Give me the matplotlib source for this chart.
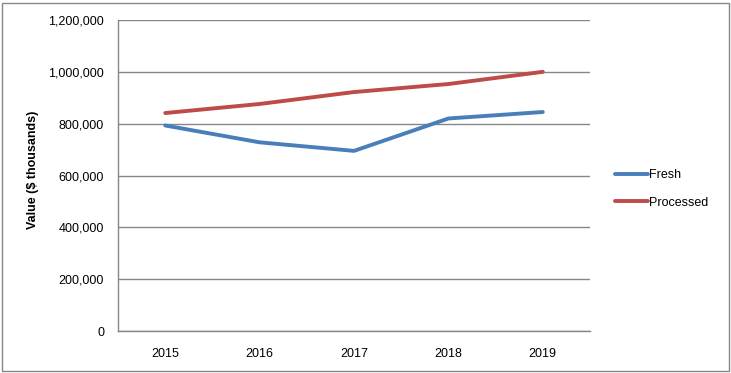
import matplotlib
matplotlib.use('Agg')
import matplotlib.pyplot as plt
from matplotlib.patches import Rectangle
from matplotlib.ticker import FuncFormatter

plt.rcParams['font.family'] = ['Liberation Sans', 'DejaVu Sans']

# data ($ thousands)
years = ['2015', '2016', '2017', '2018', '2019']
fresh = [793000, 728000, 695000, 820000, 845000]
processed = [841000, 876000, 922000, 953000, 1000000]

fig = plt.figure(figsize=(7.31, 3.73), dpi=100)
ax = fig.add_axes([118/731, 1 - 331/373, 472/731, 311/373])

x = list(range(len(years)))
ax.plot(x, fresh, color='#4a7ebb', lw=2.8, label='Fresh', solid_capstyle='round')
ax.plot(x, processed, color='#be4b48', lw=2.8, label='Processed', solid_capstyle='round')

ax.set_xlim(-0.5, len(years) - 0.5)
ax.set_ylim(0, 1200000)
ax.set_yticks(range(0, 1200001, 200000))
ax.yaxis.set_major_formatter(FuncFormatter(lambda v, p: f'{int(v):,}'))
ax.set_xticks(x)
ax.set_xticklabels(years)
ax.tick_params(length=0, labelsize=9, colors='black')
ax.tick_params(axis='x', pad=12)
ax.tick_params(axis='y', pad=10)

ax.grid(axis='y', color='#868686', lw=1)
ax.set_axisbelow(True)
for s in ['top', 'right']:
    ax.spines[s].set_visible(False)
for s in ['left', 'bottom']:
    ax.spines[s].set_color('#868686')
    ax.spines[s].set_linewidth(1)

fig.text(33/731, 1 - 170/373, 'Value ($ thousands)', rotation=90, fontsize=9,
         fontweight='bold', ha='center', va='center')

leg = ax.legend(loc='center left', bbox_to_anchor=(604/731, 1 - 189/373),
                bbox_transform=fig.transFigure, frameon=False, fontsize=9,
                handlelength=2.6, handletextpad=0.1, labelspacing=1.25)

# outer border
fig.patches.append(Rectangle((2/731, 2/373), 727/731, 368/373, transform=fig.transFigure,
                             fill=False, edgecolor='#868686', lw=1))

fig.savefig('out.png', dpi=100)
